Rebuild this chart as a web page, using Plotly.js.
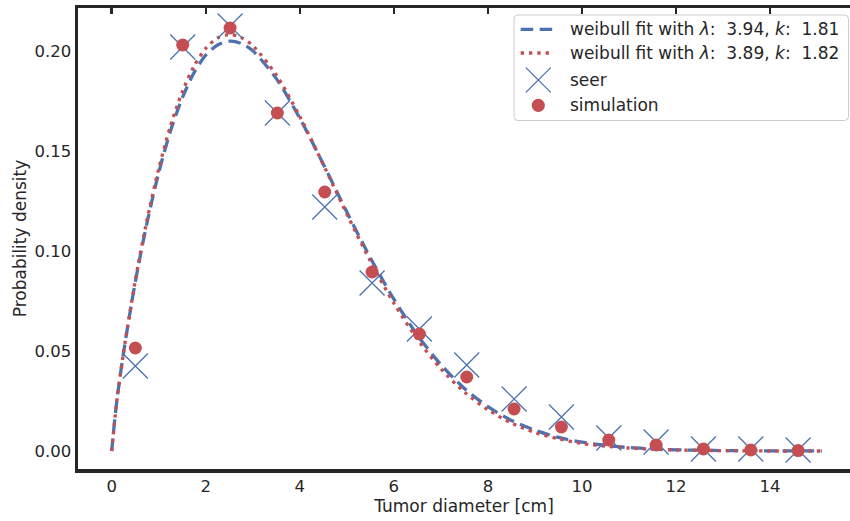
<!DOCTYPE html>
<html>
<head>
<meta charset="utf-8">
<script src="https://cdn.plot.ly/plotly-3.0.1.min.js"></script>
<style>html,body{margin:0;padding:0;background:#fff;}#chart{width:850px;height:521px;}</style>
</head>
<body>
<div id="chart"></div>
<script>
// Fitted curves
const curveX = [0, 0.1, 0.25, 0.5, 0.75, 1, 1.25, 1.5, 1.75, 2, 2.25, 2.5, 2.75, 3, 3.5, 4, 4.5, 5, 5.5, 6, 6.5, 7, 7.5, 8, 8.5, 9, 9.5, 10, 10.5, 11, 11.5, 12, 12.5, 13, 14, 15.1];
const fit1Y = [0, 0.0234, 0.0489, 0.0843, 0.1140, 0.1392, 0.1600, 0.1765, 0.1891, 0.1979, 0.2030, 0.2049, 0.2038, 0.2001, 0.1862, 0.1664, 0.1434, 0.1195, 0.0966, 0.0759, 0.0580, 0.0432, 0.0313, 0.0222, 0.0153, 0.0104, 0.0068, 0.0044, 0.0028, 0.0017, 0.0011, 0.0006, 0.0004, 0.0002, 0.0001, 0.0000];
const fit2Y = [0, 0.0232, 0.0490, 0.0850, 0.1154, 0.1412, 0.1625, 0.1795, 0.1924, 0.2013, 0.2065, 0.2082, 0.2068, 0.2027, 0.1880, 0.1672, 0.1432, 0.1185, 0.0950, 0.0739, 0.0559, 0.0411, 0.0295, 0.0206, 0.0140, 0.0093, 0.0061, 0.0038, 0.0024, 0.0015, 0.0009, 0.0005, 0.0003, 0.0002, 0.0000, 0.0000];
// Binned data (bin centres)
const binX = [0.503, 1.510, 2.517, 3.523, 4.530, 5.537, 6.543, 7.550, 8.557, 9.563, 10.570, 11.577, 12.583, 13.590, 14.597];
const seerY = [0.0425, 0.2020, 0.2125, 0.1690, 0.1220, 0.0840, 0.0610, 0.0430, 0.0260, 0.0170, 0.0065, 0.0045, 0.0010, 0.0010, 0.0005];
const simY = [0.0515, 0.2030, 0.2115, 0.1690, 0.1295, 0.0895, 0.0585, 0.0370, 0.0210, 0.0120, 0.0055, 0.0030, 0.0010, 0.0005, 0.0002];
const xTicks = [0, 2, 4, 6, 8, 10, 12, 14];
const yTicks = [0, 0.05, 0.10, 0.15, 0.20];
const yTickText = ['0.00', '0.05', '0.10', '0.15', '0.20'];
const names = ['weibull fit with <i>λ</i>:  3.94, <i>k</i>:  1.81',
               'weibull fit with <i>λ</i>:  3.89, <i>k</i>:  1.82',
               'seer', 'simulation'];

const BLUE = '#4C72B0', RED = '#C44E52', INK = '#262626';
const FONT = 'DejaVu Sans';
const DASH = '12.5px,6.5px', DOT = '3.3px,5px';

const traces = [
  {x: curveX, y: fit1Y, mode: 'lines', name: names[0], showlegend: false,
   line: {color: BLUE, width: 3.3, dash: DASH, shape: 'spline', smoothing: 0.8}},
  {x: curveX, y: fit2Y, mode: 'lines', name: names[1], showlegend: false,
   line: {color: RED, width: 3.3, dash: DOT, shape: 'spline', smoothing: 0.8}},
  {x: binX, y: seerY, mode: 'markers', name: names[2], showlegend: false,
   marker: {symbol: 'x-thin', size: 25, line: {color: BLUE, width: 1.3}, color: BLUE}},
  {x: binX, y: simY, mode: 'markers', name: names[3], showlegend: false,
   marker: {symbol: 'circle', size: 13, color: RED}},
  {x: binX, y: simY, xaxis: 'x2', mode: 'markers', showlegend: false, hoverinfo: 'skip',
   marker: {size: 1, opacity: 0}}
];

// Legend drawn by hand (pixel positions -> paper coordinates)
const M = {l: 78, r: 0, t: 8, b: 52};
const PW = 850 - M.l - M.r, PH = 521 - M.t - M.b;
const px = v => (v - M.l) / PW;
const py = v => (521 - M.b - v) / PH;

function roundRect(x0, y0, x1, y1, r) {
  const P = (a, b) => px(a) + ',' + py(b);
  return 'M' + P(x0 + r, y0) + ' L' + P(x1 - r, y0) + ' Q' + P(x1, y0) + ' ' + P(x1, y0 + r) +
         ' L' + P(x1, y1 - r) + ' Q' + P(x1, y1) + ' ' + P(x1 - r, y1) +
         ' L' + P(x0 + r, y1) + ' Q' + P(x0, y1) + ' ' + P(x0, y1 - r) +
         ' L' + P(x0, y0 + r) + ' Q' + P(x0, y0) + ' ' + P(x0 + r, y0) + ' Z';
}

const rowY = [29.3, 53, 80, 105.3];
const symX0 = 520.7, symX1 = 554, symC = 538.3, textX = 568;
const shapes = [
  {type: 'path', xref: 'paper', yref: 'paper', layer: 'above', path: roundRect(514, 15, 848.5, 120.5, 4),
   line: {color: '#cccccc', width: 1}, fillcolor: 'rgba(255,255,255,0.8)'},
  {type: 'line', xref: 'paper', yref: 'paper', layer: 'above', x0: px(symX0), x1: px(symX1), y0: py(rowY[0]), y1: py(rowY[0]),
   line: {color: BLUE, width: 3.3, dash: DASH}},
  {type: 'line', xref: 'paper', yref: 'paper', layer: 'above', x0: px(symX0), x1: px(symX1), y0: py(rowY[1]), y1: py(rowY[1]),
   line: {color: RED, width: 3.3, dash: DOT}},
  {type: 'line', xref: 'paper', yref: 'paper', layer: 'above', x0: px(symC - 12.4), x1: px(symC + 12.4), y0: py(rowY[2] - 12.4), y1: py(rowY[2] + 12.4),
   line: {color: BLUE, width: 1.3}},
  {type: 'line', xref: 'paper', yref: 'paper', layer: 'above', x0: px(symC - 12.4), x1: px(symC + 12.4), y0: py(rowY[2] + 12.4), y1: py(rowY[2] - 12.4),
   line: {color: BLUE, width: 1.3}},
  {type: 'circle', xref: 'paper', yref: 'paper', layer: 'above', x0: px(symC - 6.6), x1: px(symC + 6.6), y0: py(rowY[3] - 6.6), y1: py(rowY[3] + 6.6),
   line: {width: 0}, fillcolor: RED}
];
const annotations = names.map((n, i) => ({
  xref: 'paper', yref: 'paper', x: px(textX), y: py(rowY[i]), xanchor: 'left', yanchor: 'middle',
  text: n, showarrow: false, font: {family: FONT, size: 17, color: INK}
}));

const xr = [-0.7167, 15.70];
const layout = {
  width: 850, height: 521,
  margin: M,
  paper_bgcolor: '#fff', plot_bgcolor: '#fff',
  font: {family: FONT, color: INK, size: 16.5},
  showlegend: false,
  xaxis: {range: xr, showgrid: false, zeroline: false, showline: true, mirror: true,
          linewidth: 3.5, linecolor: INK, ticks: '', tickvals: xTicks,
          tickfont: {size: 16.5, color: INK},
          title: {text: 'Tumor diameter [cm]', font: {size: 17, color: INK}, standoff: 3}},
  xaxis2: {range: xr, overlaying: 'x', side: 'top', showgrid: false, zeroline: false,
           showline: false, ticks: 'inside', ticklen: 6, tickwidth: 2.5, tickcolor: INK,
           tickvals: xTicks, showticklabels: false},
  yaxis: {range: [-0.0090, 0.2215], showgrid: false, zeroline: false, showline: true, mirror: true,
          linewidth: 3.5, linecolor: INK, ticks: '', tickvals: yTicks, ticktext: yTickText,
          tickfont: {size: 16.5, color: INK},
          title: {text: 'Probability density', font: {size: 17, color: INK}, standoff: 4}},
  shapes: shapes,
  annotations: annotations
};

Plotly.newPlot('chart', traces, layout, {displayModeBar: false, staticPlot: true});
</script>
</body>
</html>
